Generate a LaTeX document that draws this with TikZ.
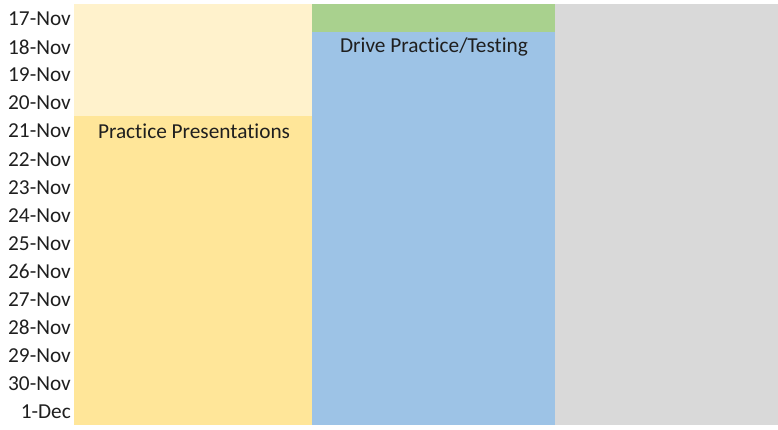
\documentclass[tikz,border=0pt]{standalone}
\usepackage{fontspec}
\setmainfont{Carlito}[Ligatures=NoCommon]
\usetikzlibrary{positioning}

\definecolor{prepLight}{RGB}{255,242,204}
\definecolor{prepDark}{RGB}{255,230,153}
\definecolor{driveGreen}{RGB}{169,209,142}
\definecolor{driveBlue}{RGB}{157,195,230}
\definecolor{restGrey}{RGB}{217,217,217}

\begin{document}
\begin{tikzpicture}[
    x=1pt, y=-1pt,
    lbl/.style={font=\fontsize{21.3}{23}\selectfont, text=black!88, inner sep=0pt},
    day/.style={lbl, anchor=east}
]
\useasboundingbox (0,0) rectangle (778,430);

% columns, one row = 421/15
\fill[prepLight] (74,4) rectangle (312,116.27);
\fill[prepDark] (74,116.27) rectangle (312,425);
\fill[driveGreen] (312,4) rectangle (555,32.07);
\fill[driveBlue] (312,32.07) rectangle (555,425);
\fill[restGrey] (555,4) rectangle (778,425);

% day labels down the left side
\foreach \i/\d in {0/17-Nov,1/18-Nov,2/19-Nov,3/20-Nov,4/21-Nov,5/22-Nov,6/23-Nov,7/24-Nov,
                   8/25-Nov,9/26-Nov,10/27-Nov,11/28-Nov,12/29-Nov,13/30-Nov,14/1-Dec}
    \node[day] (d\i) at (71,{4.8+(\i+0.5)*28.0667}) {\d};

\node[lbl] (practice) at (194,{4.8+4.5*28.0667}) {Practice Presentations};
\node[lbl] (drive) at (434,{4.8+1.5*28.0667}) {Drive Practice/Testing};
\end{tikzpicture}
\end{document}
